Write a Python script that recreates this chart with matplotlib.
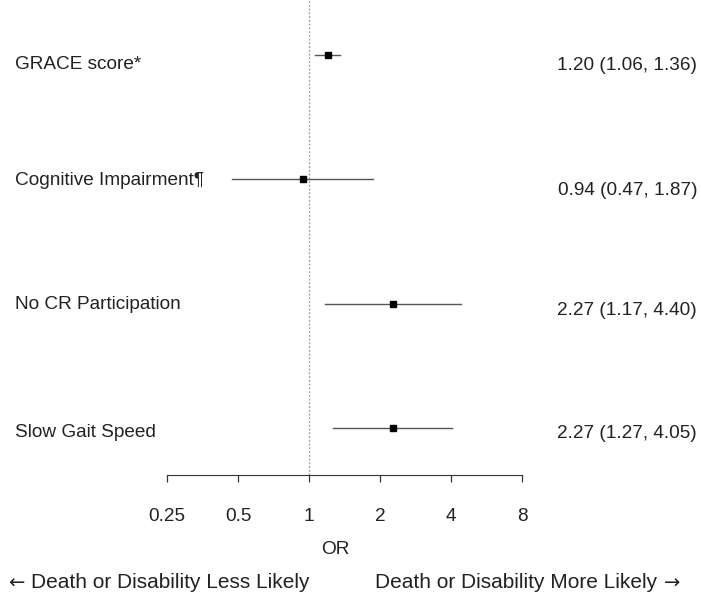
import matplotlib
matplotlib.use("Agg")
import matplotlib.pyplot as plt
from matplotlib.transforms import blended_transform_factory, ScaledTranslation

# data
labels = ["GRACE score*", "Cognitive Impairment\u00b6", "No CR Participation", "Slow Gait Speed"]
odds = [1.20, 0.94, 2.27, 2.27]
lower = [1.06, 0.47, 1.17, 1.27]
upper = [1.36, 1.87, 4.40, 4.05]
ticks = [0.25, 0.5, 1, 2, 4, 8]
tick_labels = ["0.25", "0.5", "1", "2", "4", "8"]

# small vertical nudges (pixels, down) of the text vs. the row, as in the reference
left_dy = [7, -1, -1, 2]
right_dy = [8, 9, 5, 3]

plt.rcParams['font.family'] = ['Liberation Sans', 'DejaVu Sans']
FS = 13.7
TXT = "#222222"

W, H = 701, 602
fig = plt.figure(figsize=(W / 100, H / 100), dpi=100)
ax = fig.add_axes([167 / W, 1 - 475 / H, (522 - 167) / W, 475 / H])

n = len(labels)
ys = [n - i for i in range(n)]

ax.axvline(1, color="#999999", linestyle=(0, (1.5, 1.5)), linewidth=0.9, zorder=1)
for y, o, lo, hi in zip(ys, odds, lower, upper):
    ax.plot([lo, hi], [y, y], color="#555555", linewidth=1.0, zorder=2)
    ax.plot([o], [y], marker="s", markersize=4.2, color="black", zorder=3)

ax.set_xscale("log", base=2)
ax.set_xlim(0.25, 8)
ax.set_ylim(0.622, 4.442)
ax.set_xticks(ticks)
ax.set_xticklabels(tick_labels, fontsize=FS)
ax.minorticks_off()
ax.set_yticks([])
for s in ["top", "right", "left"]:
    ax.spines[s].set_visible(False)
ax.spines["bottom"].set_color("#333333")
ax.tick_params(axis="x", length=5, width=0.9, color="#333333", pad=19, labelcolor=TXT)

trans = blended_transform_factory(fig.transFigure, ax.transData)
cap = FS * 0.716 / 72  # cap height in inches
for y, lab, o, lo, hi, dl, dr in zip(ys, labels, odds, lower, upper, left_dy, right_dy):
    tl = trans + ScaledTranslation(0, -(dl / 100 + cap / 2), fig.dpi_scale_trans)
    ax.text(15 / W, y, lab, transform=tl, ha="left", va="baseline",
            fontsize=FS, color=TXT, clip_on=False)
    tr = trans + ScaledTranslation(0, -(dr / 100 + cap / 2), fig.dpi_scale_trans)
    ax.text(697 / W, y, f"{o:.2f} ({lo:.2f}, {hi:.2f})", transform=tr,
            ha="right", va="baseline", fontsize=FS, color=TXT, clip_on=False)

fig.text(335 / W, 1 - 549 / H, "OR", ha="center", va="center", fontsize=FS, color=TXT)

BFS = 15
by = 1 - 583 / H
fig.text(8 / W, by, "\u2190", ha="left", va="center", fontsize=BFS - 1,
         color=TXT, family="DejaVu Sans")
fig.text(31 / W, by, "Death or Disability Less Likely", ha="left", va="center",
         fontsize=BFS, color=TXT)
fig.text(375 / W, by, "Death or Disability More Likely", ha="left", va="center",
         fontsize=BFS, color=TXT)
fig.text(664 / W, by, "\u2192", ha="left", va="center", fontsize=BFS - 1,
         color=TXT, family="DejaVu Sans")

fig.savefig("out.png", dpi=100, facecolor="white")
